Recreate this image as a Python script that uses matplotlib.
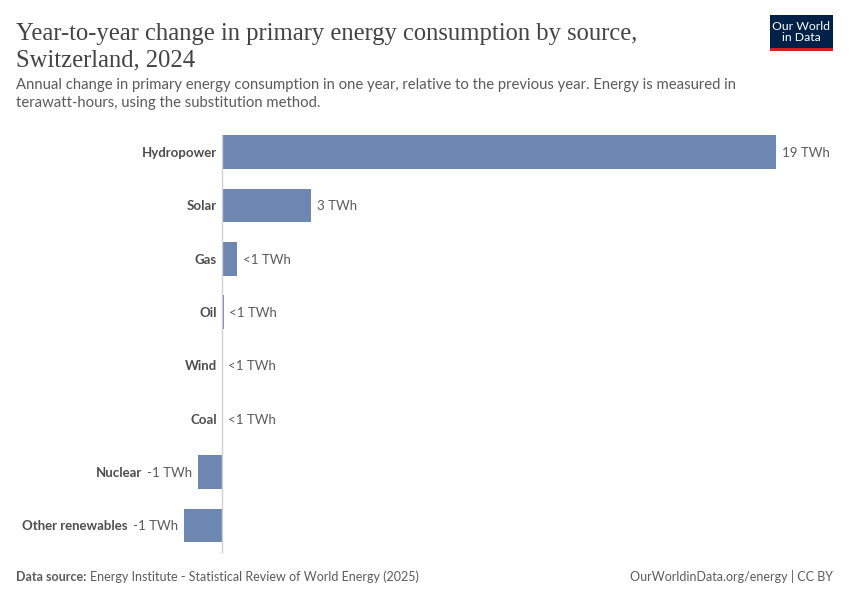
import matplotlib.pyplot as plt
from matplotlib.patches import Rectangle

# data (TWh change, 2024 vs 2023)
sources = ["Hydropower", "Solar", "Gas", "Oil", "Wind", "Coal", "Nuclear", "Other renewables"]
change = [19.0, 3.05, 0.5, 0.04, 0.0, 0.0, -0.84, -1.32]
value_labels = ["19 TWh", "3 TWh", "<1 TWh", "<1 TWh", "<1 TWh", "<1 TWh", "-1 TWh", "-1 TWh"]

bar_color = "#6d87b1"
dark = "#4e4e4e"
grey = "#5b5b5b"

plt.rcParams["font.family"] = ["Lato", "DejaVu Sans"]

fig = plt.figure(figsize=(8.5, 6), dpi=100)
W, H = 850, 600

# axes placed in pixel coordinates
x0, x1 = 184, 776
y_top, y_bot = 125.3, 552.2
ax = fig.add_axes([x0 / W, 1 - y_bot / H, (x1 - x0) / W, (y_bot - y_top) / H])

pos = list(range(len(sources)))
ax.barh(pos, change, height=0.63, color=bar_color)
ax.set_xlim(min(change), max(change))
ax.set_ylim(len(sources) - 0.5, -0.5)
ax.axis("off")
ax.plot([0, 0], [len(sources) - 0.5, -0.32], color="#d0d0d0", lw=1, clip_on=False)

fig.canvas.draw()
renderer = fig.canvas.get_renderer()

dy = -0.6  # nudge text slightly below bar centre
for i, (v, lab, name) in enumerate(zip(change, value_labels, sources)):
    if v >= 0:
        ax.annotate(lab, (v, i), xytext=(4.2, dy), textcoords="offset points",
                    ha="left", va="center", fontsize=9.5, color=grey)
        ax.annotate(name, (0, i), xytext=(-4, dy), textcoords="offset points",
                    ha="right", va="center", fontsize=9.5, color=dark, fontweight="bold")
    else:
        t = ax.annotate(lab, (v, i), xytext=(-4, dy), textcoords="offset points",
                        ha="right", va="center", fontsize=9.5, color=grey)
        w = t.get_window_extent(renderer).width * 72 / fig.dpi
        ax.annotate(name, (v, i), xytext=(-4 - w - 4, dy), textcoords="offset points",
                    ha="right", va="center", fontsize=9.5, color=dark, fontweight="bold")

# title and subtitle
title_font = ["Liberation Serif", "DejaVu Serif"]
fig.text(16 / W, 1 - 40 / H, "Year-to-year change in primary energy consumption by source,",
         fontsize=17.7, color="#444444", family=title_font)
fig.text(16 / W, 1 - 66 / H, "Switzerland, 2024", fontsize=17.7, color="#444444", family=title_font)
fig.text(16 / W, 1 - 89 / H,
         "Annual change in primary energy consumption in one year, relative to the previous year. Energy is measured in",
         fontsize=10.7, color=grey)
fig.text(16 / W, 1 - 107 / H, "terawatt-hours, using the substitution method.",
         fontsize=10.7, color=grey)

# logo
fig.patches.append(Rectangle((770 / W, 1 - 51 / H), 63 / W, 36 / H, transform=fig.transFigure,
                             facecolor="#002147", edgecolor="none"))
fig.patches.append(Rectangle((770 / W, 1 - 51 / H), 63 / W, 3 / H, transform=fig.transFigure,
                             facecolor="#ce261e", edgecolor="none"))
fig.text(801.5 / W, 1 - 32 / H, "Our World\nin Data", ha="center", va="center",
         fontsize=8.8, color="white", linespacing=1.0)

# footer
src = fig.text(16 / W, 1 - 581 / H, "Data source:", fontsize=9, color=grey, fontweight="bold")
sw = src.get_window_extent(renderer).width
fig.text((16 + sw + 4) / W, 1 - 581 / H,
         "Energy Institute - Statistical Review of World Energy (2025)",
         fontsize=9, color=grey)
fig.text(833 / W, 1 - 581 / H, "OurWorldinData.org/energy | CC BY", fontsize=9,
         color=grey, ha="right")

fig.savefig("out.png", dpi=100, facecolor="white")
